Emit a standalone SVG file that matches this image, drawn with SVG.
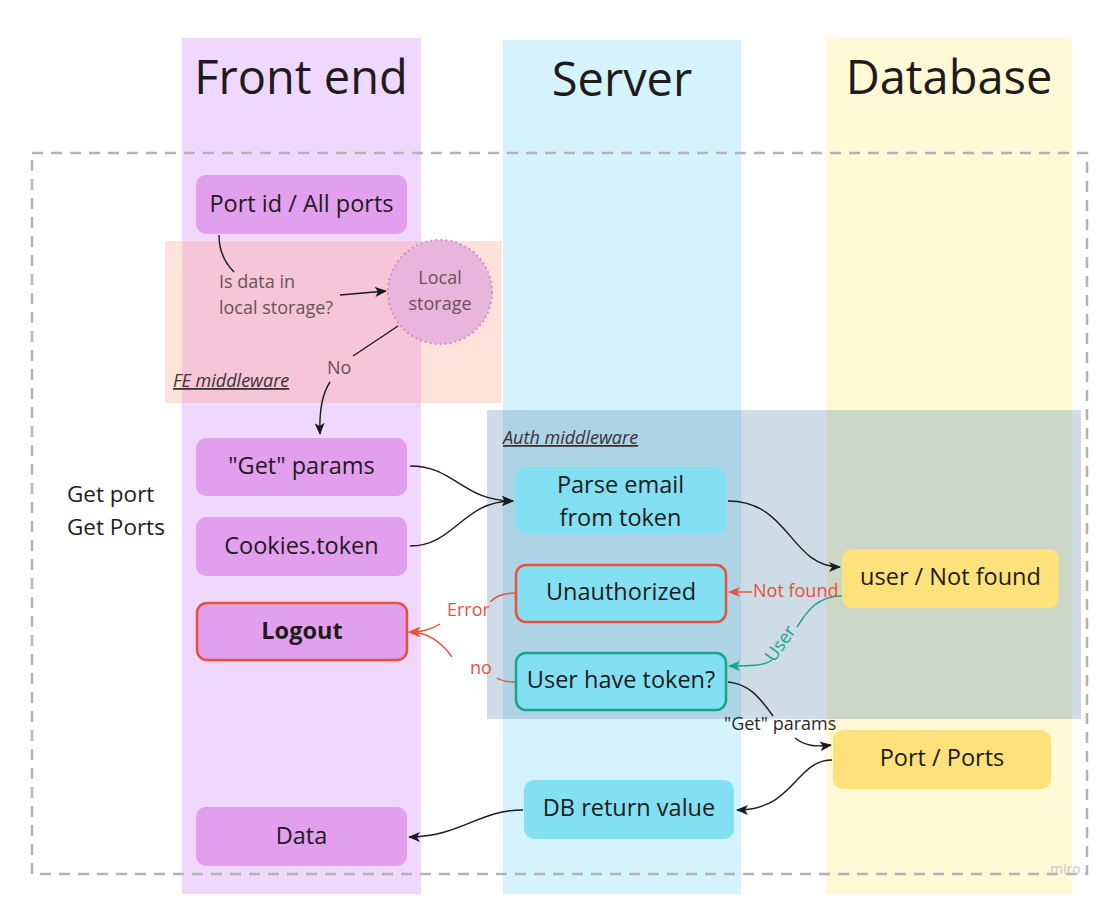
<svg xmlns="http://www.w3.org/2000/svg" width="1111" height="899" viewBox="0 0 1111 899">
<defs>
<style>
text{font-family:"Open Sans","Noto Sans","Liberation Sans",sans-serif;fill:#1f1a1c}
.hdr{font-size:47px;text-anchor:middle}
.nt{font-size:23.5px;text-anchor:middle}
.lbl{font-size:18px}
.fe{fill:#e19fee}
.sv{fill:#82e0f2}
.db{fill:#fde17a}
.c{fill:none;stroke:#1a1a1a;stroke-width:1.4}
.r{fill:none;stroke:#e8513a;stroke-width:1.4}
.g{fill:none;stroke:#14a68a;stroke-width:1.4}
</style>
<marker id="ak" viewBox="0 0 12 10" refX="11" refY="5" markerWidth="12" markerHeight="10" markerUnits="userSpaceOnUse" orient="auto"><path d="M0,0 L12,5 L0,10 L3,5 z" fill="#1a1a1a"/></marker>
<marker id="ar" viewBox="0 0 12 10" refX="11" refY="5" markerWidth="12" markerHeight="10" markerUnits="userSpaceOnUse" orient="auto"><path d="M0,0 L12,5 L0,10 L3,5 z" fill="#e8513a"/></marker>
<marker id="ag" viewBox="0 0 12 10" refX="11" refY="5" markerWidth="12" markerHeight="10" markerUnits="userSpaceOnUse" orient="auto"><path d="M0,0 L12,5 L0,10 L3,5 z" fill="#14a68a"/></marker>
</defs>
<rect width="1111" height="899" fill="#ffffff"/>
<g id="lanes">
<rect x="182" y="38" width="239" height="856" fill="#f0d7fd"/>
<rect x="503" y="40" width="238" height="854" fill="#d5f3fd"/>
<rect x="826" y="38" width="246" height="856" fill="#fff9d5"/>
<text class="hdr" x="301" y="94">Front end</text>
<text class="hdr" x="622" y="96">Server</text>
<text class="hdr" x="949" y="94">Database</text>
</g>
<rect id="frame" x="32" y="153" width="1055" height="721" fill="none" stroke="#b3b3b3" stroke-width="2.5" stroke-dasharray="11,8"/>
<g id="fe-middleware">
<rect x="165" y="241" width="337" height="162" fill="#ff9f80" fill-opacity="0.3"/>
<text x="173" y="387" font-style="italic" style="font-size:18px;fill:#3a3336" text-decoration="underline">FE middleware</text>
</g>
<g id="auth-middleware">
<rect x="487" y="410" width="594" height="309" fill="#4a80a8" fill-opacity="0.28"/>
<text x="503" y="444" font-style="italic" style="font-size:18px;fill:#3a3336" text-decoration="underline">Auth middleware</text>
</g>
<text id="get-port" x="67" y="502" style="font-size:22.5px">Get port</text>
<text id="get-ports" x="67" y="535" style="font-size:22.5px">Get Ports</text>
<g id="connectors">
<path class="c" d="M219,235 C219,252 225,263 234,272"/>
<path class="c" d="M340,295 L386,291" marker-end="url(#ak)"/>
<path class="c" d="M398,326 L353,356"/>
<path class="c" d="M330,382 C322,394 319,410 320,434" marker-end="url(#ak)"/>
<path class="c" d="M410,466 C455,466 462,501 513,501" marker-end="url(#ak)"/>
<path class="c" d="M410,546 C455,546 462,501 513,501" marker-end="url(#ak)"/>
<path class="c" d="M728,501 C790,501 790,567 840,567" marker-end="url(#ak)"/>
<path class="r" d="M752,592 L729,592" marker-end="url(#ar)"/>
<path class="g" d="M842,596 C815,596 805,615 797,627"/>
<path class="g" d="M772,660 C765,666 748,666 729,666" marker-end="url(#ag)"/>
<path class="r" d="M515,593 C502,593 495,597 490,602"/>
<path class="r" d="M440,624 C430,630 422,632 409,632" marker-end="url(#ar)"/>
<path class="r" d="M452,657 C440,640 425,632 409,632" marker-end="url(#ar)"/>
<path class="r" d="M515,682 C505,682 500,680 497,678"/>
<path class="c" d="M728,682 C748,684 758,695 773,716"/>
<path class="c" d="M795,738 C805,746 815,747 831,745" marker-end="url(#ak)"/>
<path class="c" d="M832,760 C795,760 795,810 737,810" marker-end="url(#ak)"/>
<path class="c" d="M523,810 C478,810 460,837 409,837" marker-end="url(#ak)"/>
</g>
<g id="connector-labels">
<text class="lbl" x="219" y="288" style="fill:#6b5257">Is data in</text>
<text class="lbl" x="219" y="314" style="fill:#6b5257">local storage?</text>
<text class="lbl" x="327" y="374" style="fill:#6b5257">No</text>
<text class="lbl" x="753" y="597" style="fill:#e8513a">Not found</text>
<text class="lbl" x="0" y="0" style="fill:#14a68a" transform="translate(774,663) rotate(-55)">User</text>
<text class="lbl" x="447" y="616" style="fill:#e8513a">Error</text>
<text class="lbl" x="470" y="674" style="fill:#e8513a">no</text>
<text class="lbl" x="724" y="730" style="fill:#2a2a2a">"Get" params</text>
</g>
<g id="node-port-id"><rect class="fe" x="196" y="175" width="211" height="59" rx="10"/><text class="nt" x="301.5" y="212">Port id / All ports</text></g>
<g id="node-local-storage"><circle cx="440" cy="292" r="52" fill="#e8b5dc" stroke="#d68bcd" stroke-width="2" stroke-dasharray="2,3"/><text class="lbl" x="440" y="284" text-anchor="middle" style="fill:#6b5257">Local</text><text class="lbl" x="440" y="310" text-anchor="middle" style="fill:#6b5257">storage</text></g>
<g id="node-get-params"><rect class="fe" x="196" y="438" width="211" height="58" rx="10"/><text class="nt" x="301.5" y="474">"Get" params</text></g>
<g id="node-cookies"><rect class="fe" x="196" y="517" width="211" height="59" rx="10"/><text class="nt" x="301.5" y="554">Cookies.token</text></g>
<g id="node-logout"><rect class="fe" x="197" y="603" width="210" height="57" rx="10" stroke="#e8513a" stroke-width="2.5"/><text class="nt" x="302" y="639" font-weight="bold">Logout</text></g>
<g id="node-data"><rect class="fe" x="196" y="807" width="211" height="59" rx="10"/><text class="nt" x="301.5" y="844">Data</text></g>
<g id="node-parse"><rect class="sv" x="515" y="467" width="211" height="67" rx="10"/><text class="nt" x="620.5" y="493">Parse email</text><text class="nt" x="620.5" y="526">from token</text></g>
<g id="node-unauth"><rect class="sv" x="516" y="565" width="210" height="57" rx="10" stroke="#e8513a" stroke-width="2.5"/><text class="nt" x="621" y="600">Unauthorized</text></g>
<g id="node-user-token"><rect class="sv" x="516" y="653" width="210" height="57" rx="10" stroke="#14a68a" stroke-width="2.5"/><text class="nt" x="621" y="688">User have token?</text></g>
<g id="node-db-return"><rect class="sv" x="524" y="780" width="210" height="59" rx="10"/><text class="nt" x="629" y="816">DB return value</text></g>
<g id="node-user-notfound"><rect class="db" x="842" y="549" width="217" height="59" rx="10"/><text class="nt" x="950.5" y="585">user / Not found</text></g>
<g id="node-port-ports"><rect class="db" x="833" y="730" width="218" height="59" rx="10"/><text class="nt" x="942" y="766">Port / Ports</text></g>
<text id="watermark" x="1050" y="874" style="font-size:14px;fill:#c8c8c8">miro</text>
</svg>
